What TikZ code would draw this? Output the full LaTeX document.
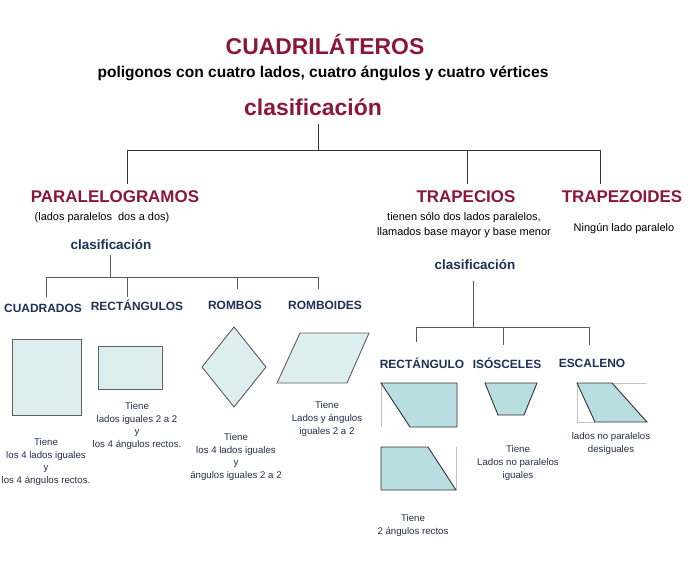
\documentclass[tikz,border=0pt]{standalone}
\usepackage{fontspec}
\setmainfont{Liberation Sans}
\usepackage{tikz}
\usetikzlibrary{positioning,calc}
\definecolor{titlered}{RGB}{140,22,56}
\definecolor{navy}{RGB}{28,48,88}
\definecolor{notenavy}{RGB}{35,45,75}
\definecolor{pfill}{RGB}{221,238,240}
\definecolor{tfill}{RGB}{185,222,225}
\definecolor{edgegrey}{RGB}{95,95,95}
\definecolor{guidegrey}{RGB}{195,195,195}
\tikzset{
  tit/.style={font=\bfseries\fontsize{23}{26}\selectfont,text=titlered,inner sep=0pt},
  hd/.style={font=\bfseries\fontsize{17}{20}\selectfont,text=titlered,inner sep=0pt},
  sub/.style={font=\fontsize{11}{15}\selectfont,align=center,inner sep=0pt},
  cls/.style={font=\bfseries\fontsize{13.5}{15}\selectfont,text=navy,inner sep=0pt},
  kind/.style={font=\bfseries\fontsize{12}{14}\selectfont,text=navy,inner sep=0pt},
  note/.style={font=\fontsize{9.7}{12.6}\selectfont,text=notenavy,align=center,inner sep=0pt},
  tree/.style={draw=black!80,line width=0.8pt},
  treeg/.style={draw=black!65,line width=0.8pt},
  pq/.style={draw=edgegrey,fill=pfill,line width=0.9pt},
  tq/.style={draw=black!80,fill=tfill,line width=0.9pt},
  guide/.style={draw=guidegrey,line width=0.9pt},
}
\begin{document}
\begin{tikzpicture}[x=1bp,y=-1bp]
  \useasboundingbox (0,0) rectangle (694,567);

  % cabecera
  \node[tit] (cuad) at (325,44) {CUADRILÁTEROS};
  \node[font=\bfseries\fontsize{15.6}{18}\selectfont,inner sep=0pt] (def) at (323,73)
    {poligonos con cuatro lados, cuatro ángulos y cuatro vértices};
  \node[tit,font=\bfseries\fontsize{23}{26}\selectfont] (clas) at (313,107) {clasificación};

  % primer nivel
  \node[hd] (para)  at (115,197) {PARALELOGRAMOS};
  \node[hd] (trap)  at (466,197) {TRAPECIOS};
  \node[hd] (tzoid) at (622,197) {TRAPEZOIDES};
  \node[sub] (parad)  at (102,218) {(lados paralelos\ \ dos a dos)};
  \node[sub] (trapd)  at (464,225.5) {tienen sólo dos lados paralelos,\\llamados base mayor y base menor};
  \node[sub] (tzoidd) at (624,229) {Ningún\ lado\ paralelo};

  \coordinate (j0)  at (318,150);
  \coordinate (j0l) at (127,150);
  \coordinate (j0m) at (467,150);
  \coordinate (j0r) at (600,150);
  \draw[tree] (clas.south -| j0) ++(0,8) -- (j0);
  \draw[tree] (j0l) -- (j0r);
  \foreach \c in {j0l,j0m,j0r} \draw[tree] (\c) -- ++(0,34);

  % paralelogramos
  \node[cls] (clasp) at (111,245) {clasificación};
  \node[kind] (cuadr) at (43,308)  {CUADRADOS};
  \node[kind] (rect)  at (137,305) {RECTÁNGULOS};
  \node[kind] (romb)  at (235,305) {ROMBOS};
  \node[kind] (rboid) at (325,305) {ROMBOIDES};

  \coordinate (j1) at (110,277);
  \draw[treeg] (clasp.south -| j1) ++(0,5) -- (j1);
  \draw[treeg] (46,297) |- (318,277) -- (318,289);
  \draw[treeg] (127,277) -- (127,297);
  \draw[treeg] (237,277) -- (237,289);

  \draw[pq] (12,339) rectangle (81,415);
  \draw[pq] (98,346) rectangle (162,389);
  \draw[pq] (234,327) -- (266,367) -- (234,407) -- (202,367) -- cycle;
  \draw[pq] (300,333) -- (369,333) -- (347,383) -- (277,383) -- cycle;

  \node[note] (ncuadr) at (46,462) {Tiene\\los 4 lados iguales\\y\\los 4 ángulos rectos.};
  \node[note] (nrect)  at (137,426) {Tiene\\lados iguales 2 a 2\\y\\los 4 ángulos rectos.};
  \node[note] (nromb)  at (236,457) {Tiene\\los 4 lados iguales\\y\\ángulos iguales 2 a 2};
  \node[note] (nrboid) at (327,419) {Tiene\\Lados y ángulos\\iguales 2 a 2};

  % trapecios
  \node[cls] (clast) at (475,265) {clasificación};
  \node[kind] (trect) at (422,363) {RECTÁNGULO};
  \node[kind] (tiso)  at (507,363) {ISÓSCELES};
  \node[kind] (tesc)  at (592,363) {ESCALENO};

  \coordinate (j2) at (473,327);
  \draw[treeg] (clast.south -| j2) ++(0,11) -- (j2);
  \draw[treeg] (416,342) |- (589,327) -- (589,345);
  \draw[treeg] (503,327) -- (503,345);

  \draw[guide] (381,383) -- (381,427);
  \draw[tq] (381,383) -- (457,383) -- (457,427) -- (410,427) -- cycle;
  \draw[guide] (456,447) -- (456,490);
  \draw[tq] (381,447) -- (428,447) -- (456,490) -- (381,490) -- cycle;
  \draw[tq] (485,383) -- (537,383) -- (524,415) -- (498,415) -- cycle;
  \draw[guide] (647,383) -- (577,383) -- (577,422) -- (595,422);
  \draw[tq] (577,383) -- (612,383) -- (647,422) -- (595,422) -- cycle;

  \node[note] (ntrect) at (413,525.5) {Tiene\\2 ángulos rectos};
  \node[note] (ntiso)  at (518,463) {Tiene\\Lados no paralelos\\iguales};
  \node[note] (ntesc)  at (611,443.5) {lados no paralelos\\desiguales};
\end{tikzpicture}
\end{document}
